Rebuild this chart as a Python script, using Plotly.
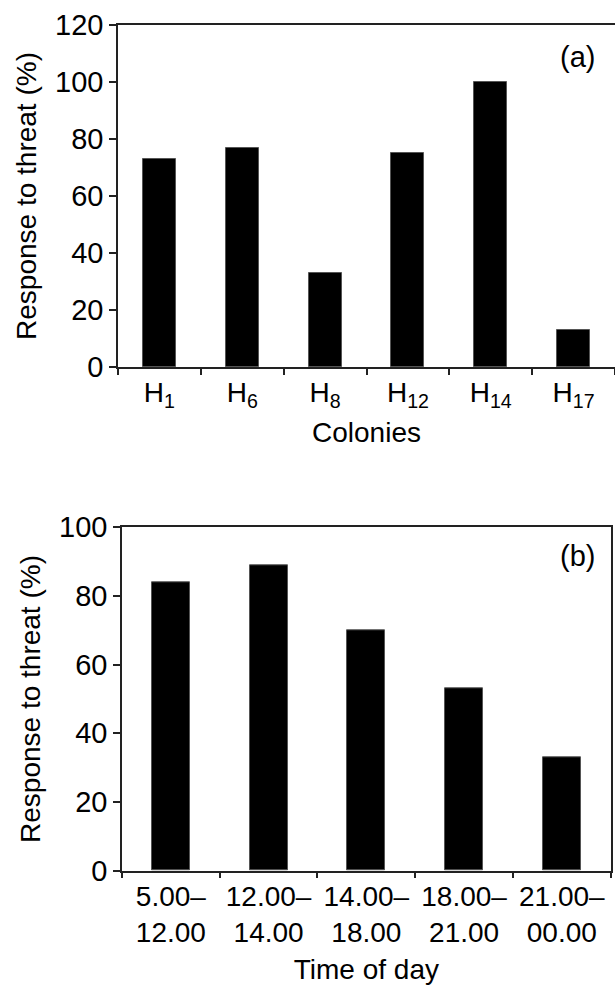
import plotly.graph_objects as go

# Panel (a): response to threat by colony
colonies = ["H<sub>1</sub>", "H<sub>6</sub>", "H<sub>8</sub>",
            "H<sub>12</sub>", "H<sub>14</sub>", "H<sub>17</sub>"]
colony_response = [73, 77, 33, 75, 100, 13]

# Panel (b): response to threat by time of day
time_slots = ["5.00–<br>12.00", "12.00–<br>14.00", "14.00–<br>18.00",
              "18.00–<br>21.00", "21.00–<br>00.00"]
time_response = [84, 89, 70, 53, 33]

y_ticks_a = [0, 20, 40, 60, 80, 100, 120]
y_ticks_b = [0, 20, 40, 60, 80, 100]

W, H = 615, 994
FONT = "Liberation Sans, Arial, sans-serif"

fig = go.Figure()
fig.add_trace(go.Bar(x=colonies, y=colony_response, xaxis="x", yaxis="y",
                     width=0.4, marker=dict(color="black", line=dict(color="#555", width=1)),
                     showlegend=False))
fig.add_trace(go.Bar(x=time_slots, y=time_response, xaxis="x2", yaxis="y2",
                     width=0.39, marker=dict(color="black", line=dict(color="#555", width=1)),
                     showlegend=False))


def px_x(p):
    return p / W


def px_y(p):
    return (H - p) / H


def axis_style(font_size):
    return dict(showline=True, linecolor="#222", linewidth=1.5, showgrid=False,
                zeroline=False, ticks="outside", tickcolor="#222", tickwidth=1.5,
                automargin=False, tickangle=0,
                tickfont=dict(family=FONT, size=font_size, color="black"))


TITLE_SIZE = 28

fig.update_layout(
    width=W, height=H, margin=dict(l=0, r=0, t=0, b=0),
    plot_bgcolor="white", paper_bgcolor="white", bargap=0,
    font=dict(family=FONT, color="black"),
    xaxis=dict(**axis_style(28), domain=[px_x(118), 1.0], anchor="y", type="category",
               tickson="boundaries", ticklen=6, mirror=True, range=[-0.5, 5.5],
               title=dict(text="Colonies", font=dict(family=FONT, size=TITLE_SIZE),
                          standoff=11)),
    yaxis=dict(**axis_style(29), domain=[px_y(367), px_y(25)],
               anchor="x", range=[0, 120], tickvals=y_ticks_a, ticklen=7, mirror=False,
               title=dict(text="Response to threat (%)",
                          font=dict(family=FONT, size=TITLE_SIZE), standoff=10)),
    xaxis2=dict(**axis_style(28), domain=[px_x(122), px_x(610.7)], anchor="y2",
                type="category", tickson="boundaries", ticklen=6, mirror=True,
                range=[-0.5, 4.5],
                title=dict(text="Time of day", font=dict(family=FONT, size=TITLE_SIZE),
                           standoff=12)),
    yaxis2=dict(**axis_style(29), domain=[px_y(870.7), px_y(527.3)], anchor="x2",
                range=[0, 100], tickvals=y_ticks_b, ticklen=7, mirror=True,
                title=dict(text="Response to threat (%)",
                           font=dict(family=FONT, size=TITLE_SIZE), standoff=10)),
    annotations=[
        dict(text="(a)", xref="paper", yref="paper", x=px_x(577), y=px_y(57),
             xanchor="center", yanchor="middle", showarrow=False,
             font=dict(family=FONT, size=29, color="black")),
        dict(text="(b)", xref="paper", yref="paper", x=px_x(577), y=px_y(556),
             xanchor="center", yanchor="middle", showarrow=False,
             font=dict(family=FONT, size=29, color="black")),
    ],
)

fig.write_html("out.html")
